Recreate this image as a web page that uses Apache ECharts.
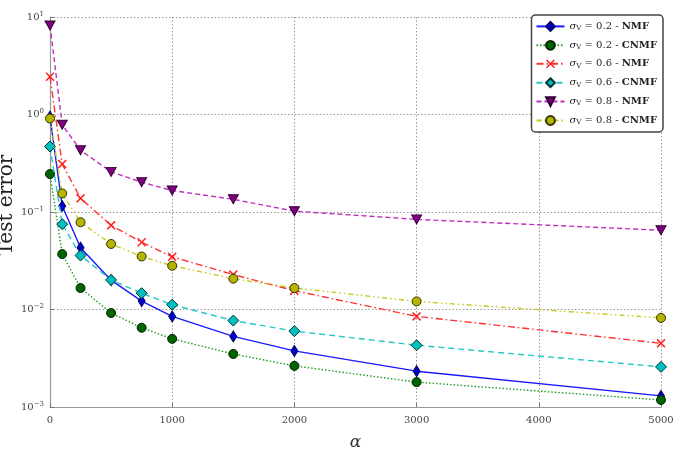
<!DOCTYPE html>
<html><head><meta charset="utf-8">
<script src="https://cdn.jsdelivr.net/npm/echarts@6/dist/echarts.min.js"></script>
<style>html,body{margin:0;padding:0;background:#fff}#c{width:673px;height:450px}</style>
</head><body><div id="c"></div>
<script>
const alphas = [0, 100, 250, 500, 750, 1000, 1500, 2000, 3000, 5000];
const nmf02  = [0.95, 0.115, 0.043, 0.020, 0.0122, 0.0085, 0.0053, 0.00376, 0.00233, 0.0013];
const cnmf02 = [0.245, 0.037, 0.0166, 0.0092, 0.0065, 0.0050, 0.0035, 0.00264, 0.0018, 0.00118];
const nmf06  = [2.44, 0.31, 0.138, 0.073, 0.049, 0.0347, 0.0228, 0.0156, 0.0085, 0.0045];
const cnmf06 = [0.47, 0.075, 0.0358, 0.0201, 0.0147, 0.0112, 0.0077, 0.0060, 0.0043, 0.00258];
const nmf08  = [8.2, 0.785, 0.43, 0.258, 0.202, 0.166, 0.135, 0.102, 0.084, 0.065];
const cnmf08 = [0.91, 0.155, 0.0785, 0.047, 0.035, 0.0281, 0.0207, 0.0166, 0.0121, 0.0082];
const sigmas = ['0.2', '0.2', '0.6', '0.6', '0.8', '0.8'];
const methods = ['NMF', 'CNMF', 'NMF', 'CNMF', 'NMF', 'CNMF'];
const seriesNames = sigmas.map((s, i) => 's' + s + ' ' + methods[i]);
const yTicks = [0.001, 0.01, 0.1, 1, 10];

const XPATH = 'path://M0,1.2L1.2,0L5,3.8L8.8,0L10,1.2L6.2,5L10,8.8L8.8,10L5,6.2L1.2,10L0,8.8L3.8,5Z';
const serif = '"DejaVu Serif", "Liberation Serif", serif';

const styles = [
  {data: nmf02, color: '#0000cc', line: '#1a1aff', type: 'solid', symbol: 'diamond', size: [7, 11], border: '#000066'},
  {data: cnmf02, color: '#006400', line: '#1f9a1f', type: [1.5, 2], symbol: 'circle', size: 9, border: '#002200'},
  {data: nmf06, color: '#ff2020', line: '#ff3030', type: [7, 3, 1.5, 3], symbol: XPATH, size: 9, border: null},
  {data: cnmf06, color: '#00bfbf', line: '#22c8c8', type: [6, 4], symbol: 'diamond', size: [11, 11], border: '#003333'},
  {data: nmf08, color: '#800080', line: '#c030c0', type: [5, 3], symbol: 'triangle', size: [10, 9], border: '#330033', rotate: 180},
  {data: cnmf08, color: '#b5b500', line: '#c8c820', type: [5, 3, 1.5, 3, 1.5, 3], symbol: 'circle', size: 9, border: '#333300'}
];

const series = styles.map((s, i) => ({
  name: seriesNames[i],
  type: 'line',
  data: alphas.map((a, j) => [a, s.data[j]]),
  symbol: s.symbol,
  symbolSize: s.size,
  symbolRotate: s.rotate || 0,
  showAllSymbol: true,
  z: 3 + i,
  lineStyle: {color: s.line, width: 1.4, type: s.type},
  itemStyle: {color: s.color, borderColor: s.border || s.color, borderWidth: s.border ? 1 : 0}
}));

const chart = echarts.init(document.getElementById('c'), null, {renderer: 'canvas'});
chart.setOption({
  animation: false,
  backgroundColor: '#fff',
  grid: {left: 50, right: 12, top: 17, bottom: 43, containLabel: false, outerBoundsMode: 'none'},
  legend: {
    data: seriesNames,
    orient: 'vertical',
    right: 10, top: 15,
    backgroundColor: '#fff',
    borderColor: '#444', borderWidth: 1.5, borderRadius: 4,
    padding: [6, 6, 6, 4],
    itemGap: 8,
    itemWidth: 28, itemHeight: 11,
    formatter: function (name) {
      const i = seriesNames.indexOf(name);
      return '{m|σ}{sub|V}{t| = ' + sigmas[i] + ' - }{b|' + methods[i] + '}';
    },
    textStyle: {
      fontFamily: serif, fontSize: 10, color: '#222',
      rich: {
        m: {fontFamily: serif, fontStyle: 'italic', fontSize: 10},
        sub: {fontFamily: serif, fontSize: 7, verticalAlign: 'bottom', padding: [4, 0, 0, 0]},
        t: {fontFamily: serif, fontSize: 10},
        b: {fontFamily: serif, fontSize: 10, fontWeight: 'bold'}
      }
    }
  },
  xAxis: {
    type: 'value', min: 0, max: 5000, interval: 1000,
    name: 'α', nameLocation: 'middle', nameGap: 27, nameMoveOverlap: false,
    nameTextStyle: {fontFamily: serif, fontStyle: 'italic', fontSize: 17, color: '#333'},
    axisLine: {lineStyle: {color: '#999', width: 1.2}},
    axisTick: {inside: true, length: 4, lineStyle: {color: '#777'}},
    axisLabel: {fontFamily: serif, fontSize: 10, color: '#444', margin: 8, formatter: v => String(v)},
    splitLine: {show: true, lineStyle: {color: '#999', type: [1.5, 2], width: 1}}
  },
  yAxis: {
    type: 'log', logBase: 10, min: 0.001, max: 10,
    name: 'Test error', nameLocation: 'middle', nameGap: 33, nameRotate: 90, nameMoveOverlap: false,
    nameTextStyle: {fontFamily: serif, fontSize: 20, color: '#222', padding: [0, 0, 0, 14]},
    axisLine: {lineStyle: {color: '#999', width: 1.2}},
    axisTick: {inside: true, length: 4, lineStyle: {color: '#777'}},
    minorTick: {show: false},
    axisLabel: {
      fontFamily: serif, fontSize: 10, color: '#444', margin: 6,
      formatter: function (v) {
        const e = Math.round(Math.log10(v));
        return '10{sup|' + (e < 0 ? '−' + (-e) : e) + '}';
      },
      rich: {sup: {fontFamily: serif, fontSize: 7, verticalAlign: 'top', padding: [0, 0, 6, 0], color: '#444'}}
    },
    splitLine: {show: true, lineStyle: {color: '#999', type: [1.5, 2], width: 1}}
  },
  series: series
});
</script>
</body></html>
